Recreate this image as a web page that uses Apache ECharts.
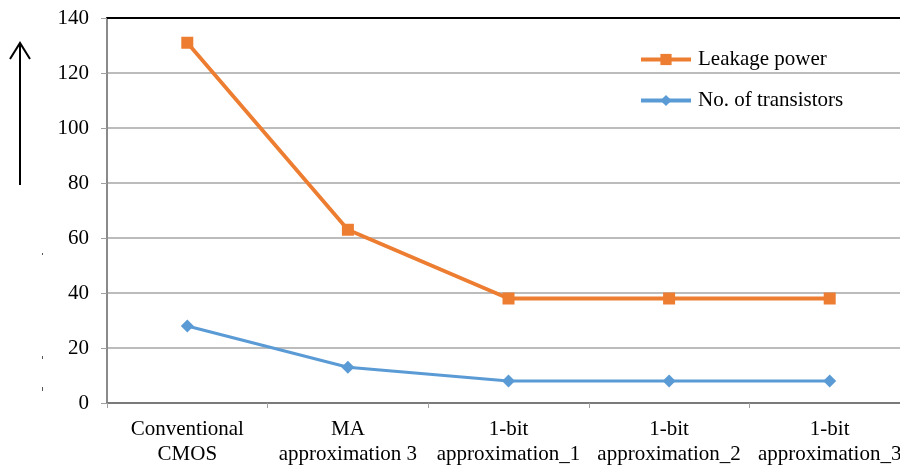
<!DOCTYPE html>
<html>
<head>
<meta charset="utf-8">
<script src="https://cdn.jsdelivr.net/npm/echarts@6/dist/echarts.min.js"></script>
<style>
  html, body { margin: 0; padding: 0; background: #fff; }
  #chart { width: 900px; height: 468px; }
</style>
</head>
<body>
<div id="chart"></div>
<script>
// Circuit variants compared on the horizontal axis
const categories = [
  'Conventional\nCMOS',
  'MA\napproximation 3',
  '1-bit\napproximation_1',
  '1-bit\napproximation_2',
  '1-bit\napproximation_3'
];
const leakagePower = [131, 63, 38, 38, 38];
const transistorCount = [28, 13, 8, 8, 8];
const yTicks = { min: 0, max: 140, step: 20 };

const FONT = "'Liberation Serif', serif";
const chart = echarts.init(document.getElementById('chart'));

chart.setOption({
  animation: false,
  backgroundColor: '#ffffff',
  grid: {
    left: 107, top: 18, bottom: 65, width: 803,
    containLabel: false, outerBoundsMode: 'none'
  },
  legend: {
    orient: 'vertical',
    left: 634,
    top: 44,
    itemWidth: 50,
    itemHeight: 14,
    itemGap: 20,
    lineStyle: { width: 4 },
    textStyle: { fontFamily: FONT, fontSize: 21, color: '#000', padding: [0, 0, 0, 2] },
    data: ['Leakage power', 'No. of transistors']
  },
  xAxis: [
    {
      type: 'category',
      data: categories,
      boundaryGap: true,
      axisLine: { lineStyle: { color: '#7a7a7a', width: 2 } },
      axisTick: { show: true, length: 5, lineStyle: { color: '#a0a0a0', width: 1 } },
      axisLabel: {
        fontFamily: FONT, fontSize: 21, color: '#000',
        lineHeight: 25, margin: 14, interval: 0
      },
      splitLine: { show: false }
    },
    {
      // closing top border of the plot
      type: 'category',
      position: 'top',
      data: categories,
      axisLine: { show: true, lineStyle: { color: '#000', width: 2 } },
      axisTick: { show: false },
      axisLabel: { show: false }
    }
  ],
  yAxis: {
    type: 'value',
    min: yTicks.min,
    max: yTicks.max,
    interval: yTicks.step,
    axisLine: { show: true, lineStyle: { color: '#8a8a8a', width: 2 } },
    axisTick: { show: true, length: 6, lineStyle: { color: '#a0a0a0', width: 1 } },
    axisLabel: { fontFamily: FONT, fontSize: 21, color: '#000', margin: 18 },
    splitLine: { show: true, lineStyle: { color: '#a6a6a6', width: 1.5 } }
  },
  series: [
    {
      name: 'Leakage power',
      type: 'line',
      data: leakagePower,
      symbol: 'rect',
      symbolSize: 12,
      itemStyle: { color: '#ED7D31' },
      lineStyle: { color: '#ED7D31', width: 3.8 },
      z: 3
    },
    {
      name: 'No. of transistors',
      type: 'line',
      data: transistorCount,
      symbol: 'diamond',
      symbolSize: 13,
      itemStyle: { color: '#5B9BD5' },
      lineStyle: { color: '#5B9BD5', width: 3.2 },
      z: 3
    }
  ],
  graphic: [
    // upward arrow beside the value axis
    { type: 'line', shape: { x1: 20, y1: 43, x2: 20, y2: 185 }, style: { stroke: '#000', lineWidth: 2 } },
    { type: 'polyline', shape: { points: [[10, 59], [20, 43], [30, 59]] }, style: { stroke: '#000', lineWidth: 2, fill: null } },
    { type: 'rect', shape: { x: 42, y: 253, width: 1, height: 2 }, style: { fill: '#555' } },
    { type: 'rect', shape: { x: 42, y: 356, width: 1, height: 3 }, style: { fill: '#555' } },
    { type: 'rect', shape: { x: 42, y: 387, width: 1, height: 4 }, style: { fill: '#555' } }
  ]
});
</script>
</body>
</html>
